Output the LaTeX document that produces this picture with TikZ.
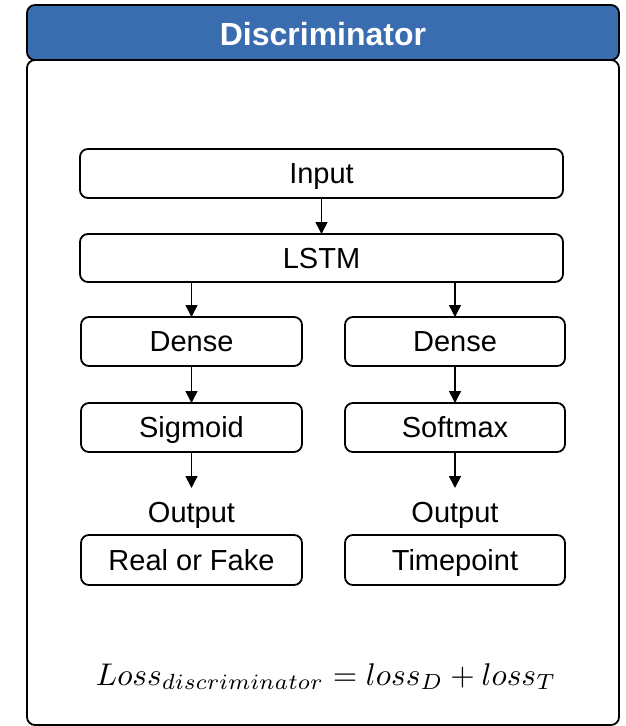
\documentclass[tikz,border=0pt]{standalone}
\usepackage{fontspec}
\usepackage{graphicx}
\setmainfont{Liberation Sans}
\usetikzlibrary{arrows.meta}
\definecolor{headblue}{RGB}{58,108,176}
\begin{document}
\begin{tikzpicture}[x=1pt,y=-1pt,
  layer/.style={draw=black,line width=1.8pt,rounded corners=8pt,fill=white},
  lbl/.style={font=\fontsize{29}{32}\selectfont,text=black,anchor=base,inner sep=0pt},
  flow/.style={-{Triangle[length=12pt,width=12pt]},line width=1.6pt}]
\useasboundingbox (0,0) rectangle (626,726);
% frame: title bar and body
\draw[layer] (27,60) rectangle (619,725);
\draw[draw=black,line width=1.8pt,rounded corners=8pt,fill=headblue] (27,5) rectangle (619,60);
\node[font=\fontsize{32}{35}\selectfont\bfseries,text=white,anchor=base,inner sep=0pt] (title) at (323,45) {Discriminator};
% boxes
\path[layer] (80,149) rectangle (563,198);
\node[lbl] (in) at (321.5,183.5) {Input};
\path[layer] (80,234) rectangle (563,282);
\node[lbl] (lstm) at (321.5,268) {LSTM};
\path[layer] (81,317) rectangle (302,366);
\node[lbl] (d1) at (191.5,351.5) {Dense};
\path[layer] (345,317) rectangle (565,366);
\node[lbl] (d2) at (455,351.5) {Dense};
\path[layer] (81,403) rectangle (302,452);
\node[lbl] (sg) at (191.5,437.5) {Sigmoid};
\path[layer] (345,403) rectangle (565,452);
\node[lbl] (sm) at (455,437.5) {Softmax};
\node[lbl] (o1) at (191.5,522) {Output};
\node[lbl] (o2) at (455,522) {Output};
\path[layer] (81,535) rectangle (302,585);
\node[lbl] (rf) at (191.5,570) {Real or Fake};
\path[layer] (345,535) rectangle (565,585);
\node[lbl] (tp) at (455,570) {Timepoint};
% connectors
\coordinate (inb) at (321.5,198);  \coordinate (lstmt) at (321.5,234);
\coordinate (lb1) at (191.5,282); \coordinate (d1t) at (191.5,317);
\coordinate (lb2) at (455,282);   \coordinate (d2t) at (455,317);
\coordinate (d1b) at (191.5,366); \coordinate (sgt) at (191.5,403);
\coordinate (d2b) at (455,366);   \coordinate (smt) at (455,403);
\coordinate (sgb) at (191.5,452); \coordinate (o1t) at (191.5,488);
\coordinate (smb) at (455,452);   \coordinate (o2t) at (455,488);
\draw[flow] (inb) -- (lstmt);
\draw[flow] (lb1) -- (d1t);
\draw[flow] (lb2) -- (d2t);
\draw[flow] (d1b) -- (sgt);
\draw[flow] (d2b) -- (smt);
\draw[flow] (sgb) -- (o1t);
\draw[flow] (smb) -- (o2t);
% loss
\node[anchor=base,inner sep=0pt] (loss) at (326,685) {\resizebox{460pt}{!}{$Loss_{discriminator} = loss_D + loss_T$}};
\end{tikzpicture}
\end{document}
